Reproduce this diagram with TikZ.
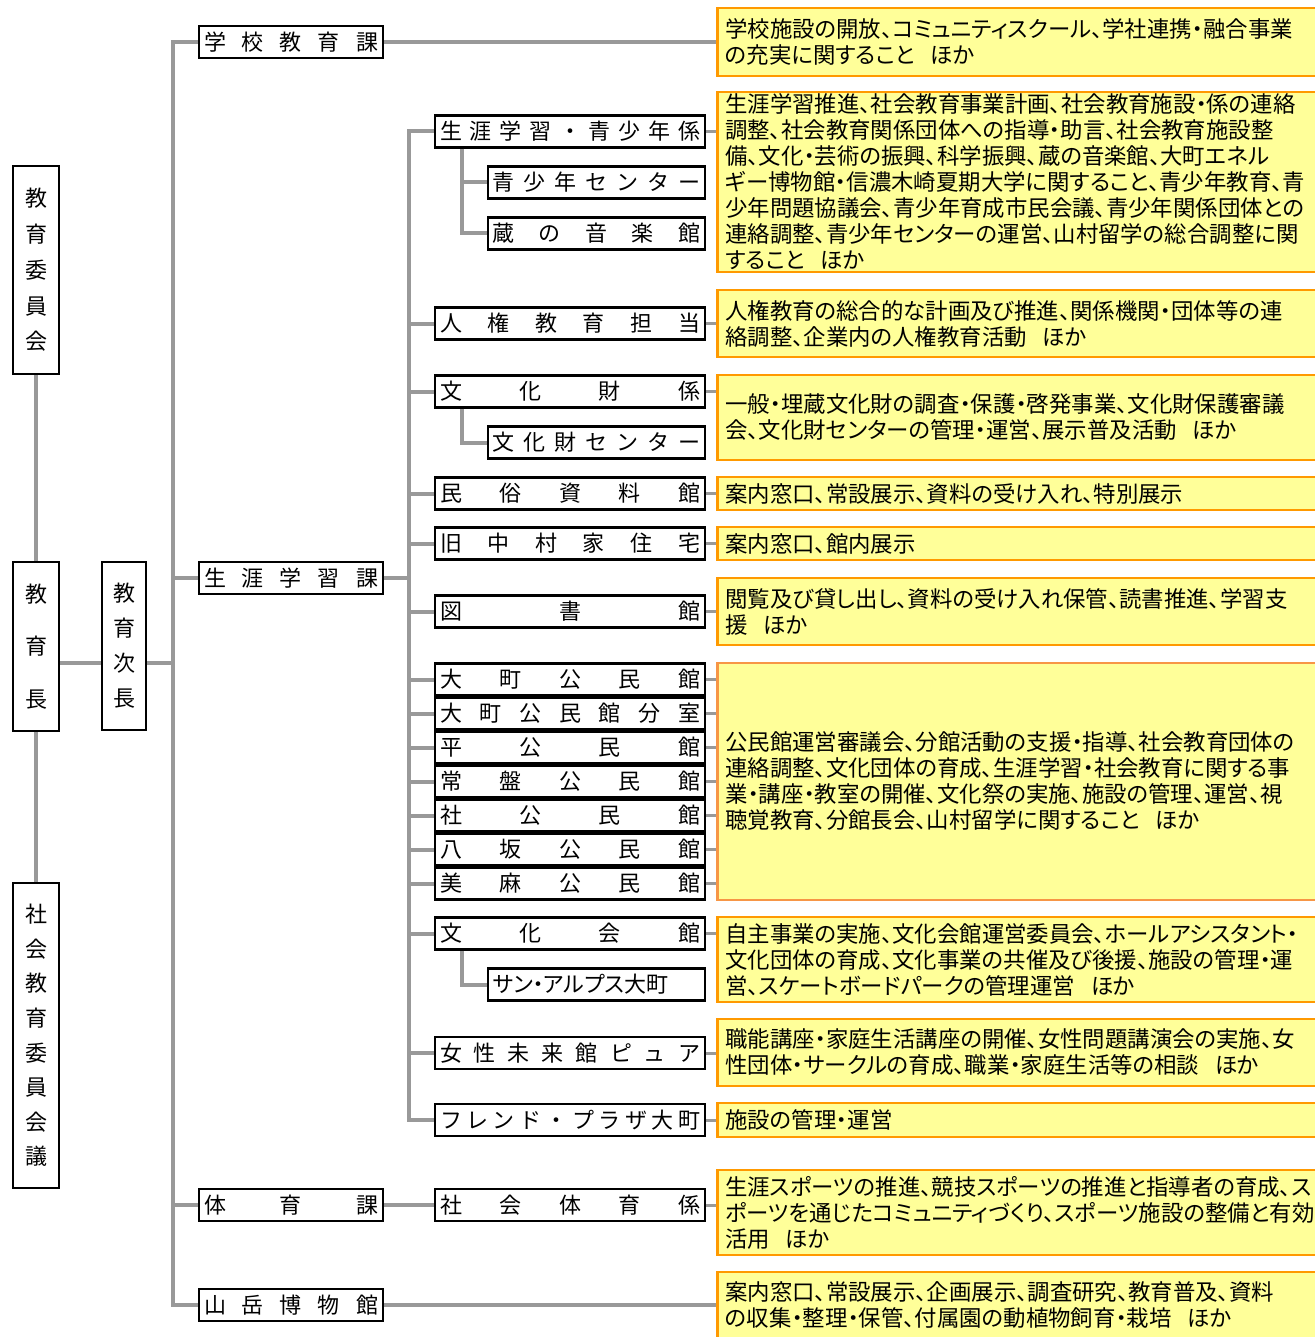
\documentclass[tikz,border=0pt]{standalone}
\usepackage{fontspec}
\newfontfamily\jp{Noto Sans CJK JP}
\newfontfamily\jpp[RawFeature=+palt]{Noto Sans CJK JP}
\definecolor{lg}{HTML}{999999}
\definecolor{dor}{HTML}{FF9900}
\definecolor{dor2}{HTML}{F79646}
\definecolor{dye}{HTML}{FFFF99}
\newcommand{\spr}[2]{\makebox[#1pt][s]{#2}}
\newcommand{\gp}{\hspace{0.7em}}
\begin{document}
\begin{tikzpicture}[x=1pt,y=-1pt,
  vbox/.style={draw=black, line width=2.7pt, fill=white, inner sep=0pt, align=center},
  hbox/.style={draw=black, line width=2.7pt, fill=white, inner sep=0pt, minimum height=32pt, font=\jp\fontsize{22}{26}\selectfont},
  c2box/.style={hbox, minimum width=184pt},
  c3box/.style={hbox, minimum width=270pt},
  subbox/.style={hbox, minimum width=217pt},
  desc/.style={draw=dor, line width=2.5pt, fill=dye, anchor=west, inner xsep=8pt, inner ysep=0pt, text width=630pt, align=left, font=\jpp\fontsize{22.4}{26}\selectfont},
  conn/.style={draw=lg, line width=4pt},
  dconn/.style={draw=lg, line width=3pt}]
\useasboundingbox (0,0) rectangle (1314,1337);

% left column
\node[vbox, minimum width=46pt, minimum height=208pt, font=\jp\fontsize{22}{35.7}\selectfont] (iinkai) at (36,270) {教\\育\\委\\員\\会};
\node[vbox, minimum width=46pt, minimum height=169pt, font=\jp\fontsize{22}{52.5}\selectfont] (kyoikucho) at (36,646.5) {教\\育\\長};
\node[vbox, minimum width=46pt, minimum height=305pt, font=\jp\fontsize{22}{34.6}\selectfont] (shakai) at (36,1035.5) {社\\会\\教\\育\\委\\員\\会\\議};
\node[vbox, minimum width=44pt, minimum height=168pt, font=\jp\fontsize{22}{35}\selectfont] (jicho) at (124,646) {教\\育\\次\\長};

% column 2
\node[c2box] (gakko) at (291,42) {\spr{174}{学\hfill 校\hfill 教\hfill 育\hfill 課}};
\node[c2box] (shogai) at (291,578) {\spr{174}{生\hfill 涯\hfill 学\hfill 習\hfill 課}};
\node[c2box] (taiiku) at (291,1205) {\spr{174}{体\hfill 育\hfill 課}};
\node[c2box] (sangaku) at (291,1305) {\spr{174}{山\hfill 岳\hfill 博\hfill 物\hfill 館}};

% column 3
\node[c3box] (k1) at (570,131.5) {\spr{260}{生\hfill 涯\hfill 学\hfill 習\hfill ・\hfill 青\hfill 少\hfill 年\hfill 係}};
\node[subbox] (seisho) at (596.5,182.5) {\spr{208}{青\hfill 少\hfill 年\hfill セ\hfill ン\hfill タ\hfill ー}};
\node[subbox] (kura) at (596.5,233.5) {\spr{208}{蔵\hfill の\hfill 音\hfill 楽\hfill 館}};
\node[c3box] (jinken) at (570,323.5) {\spr{260}{人\hfill 権\hfill 教\hfill 育\hfill 担\hfill 当}};
\node[c3box] (bunkazai) at (570,391.5) {\spr{260}{文\hfill 化\hfill 財\hfill 係}};
\node[subbox] (bzc) at (596.5,442.5) {\spr{208}{文\hfill 化\hfill 財\hfill セ\hfill ン\hfill タ\hfill ー}};
\node[c3box] (minzoku) at (570,493.5) {\spr{260}{民\hfill 俗\hfill 資\hfill 料\hfill 館}};
\node[c3box] (kyu) at (570,543.5) {\spr{260}{旧\hfill 中\hfill 村\hfill 家\hfill 住\hfill 宅}};
\node[c3box] (tosho) at (570,611.5) {\spr{260}{図\hfill 書\hfill 館}};
\node[c3box] (kom1) at (570,679.5) {\spr{260}{大\hfill 町\hfill 公\hfill 民\hfill 館}};
\node[c3box] (kom2) at (570,713.5) {\spr{260}{大\hfill 町\hfill 公\hfill 民\hfill 館\hfill 分\hfill 室}};
\node[c3box] (kom3) at (570,747.5) {\spr{260}{平\hfill 公\hfill 民\hfill 館}};
\node[c3box] (kom4) at (570,781.5) {\spr{260}{常\hfill 盤\hfill 公\hfill 民\hfill 館}};
\node[c3box] (kom5) at (570,815.5) {\spr{260}{社\hfill 公\hfill 民\hfill 館}};
\node[c3box] (kom6) at (570,849.5) {\spr{260}{八\hfill 坂\hfill 公\hfill 民\hfill 館}};
\node[c3box] (kom7) at (570,883.5) {\spr{260}{美\hfill 麻\hfill 公\hfill 民\hfill 館}};
\node[c3box] (bunkakaikan) at (570,933.5) {\spr{260}{文\hfill 化\hfill 会\hfill 館}};
\node[subbox] (sun) at (596.5,984.5) {\makebox[208pt][l]{\jpp サン・アルプス大町}};
\node[c3box] (josei) at (570,1053) {\spr{260}{女\hfill 性\hfill 未\hfill 来\hfill 館\hfill ピ\hfill ュ\hfill ア}};
\node[c3box] (friend) at (570,1120) {\spr{260}{フ\hfill レ\hfill ン\hfill ド\hfill ・\hfill プ\hfill ラ\hfill ザ\hfill 大\hfill 町}};
\node[c3box] (shtaiiku) at (570,1205) {\spr{260}{社\hfill 会\hfill 体\hfill 育\hfill 係}};

% descriptions
\node[desc, minimum height=68pt] (d1) at (716,42) {学校施設の開放、コミュニティスクール、学社連携・融合事業\\の充実に関すること\gp ほか};
\node[desc, minimum height=180pt] (d2) at (716,182) {生涯学習推進、社会教育事業計画、社会教育施設・係の連絡\\調整、社会教育関係団体への指導・助言、社会教育施設整\\備、文化・芸術の振興、科学振興、蔵の音楽館、大町エネル\\ギー博物館・信濃木崎夏期大学に関すること、青少年教育、青\\少年問題協議会、青少年育成市民会議、青少年関係団体との\\連絡調整、青少年センターの運営、山村留学の総合調整に関\\すること\gp ほか};
\node[desc, minimum height=67pt] (d3) at (716,323.5) {人権教育の総合的な計画及び推進、関係機関・団体等の連\\絡調整、企業内の人権教育活動\gp ほか};
\node[desc, minimum height=85pt] (d4) at (716,417.5) {一般・埋蔵文化財の調査・保護・啓発事業、文化財保護審議\\会、文化財センターの管理・運営、展示普及活動\gp ほか};
\node[desc, minimum height=33pt] (d5) at (716,493.5) {案内窓口、常設展示、資料の受け入れ、特別展示};
\node[desc, minimum height=33pt] (d6) at (716,543.5) {案内窓口、館内展示};
\node[desc, minimum height=67pt] (d7) at (716,611.5) {閲覧及び貸し出し、資料の受け入れ保管、読書推進、学習支\\援\gp ほか};
\node[desc, draw=dor2, minimum height=237pt] (d8) at (716,781.5) {公民館運営審議会、分館活動の支援・指導、社会教育団体の\\連絡調整、文化団体の育成、生涯学習・社会教育に関する事\\業・講座・教室の開催、文化祭の実施、施設の管理、運営、視\\聴覚教育、分館長会、山村留学に関すること\gp ほか};
\node[desc, minimum height=85pt] (d9) at (716,959.5) {自主事業の実施、文化会館運営委員会、ホールアシスタント・\\文化団体の育成、文化事業の共催及び後援、施設の管理・運\\営、スケートボードパークの管理運営\gp ほか};
\node[desc, minimum height=67pt] (d10) at (716,1052.5) {職能講座・家庭生活講座の開催、女性問題講演会の実施、女\\性団体・サークルの育成、職業・家庭生活等の相談\gp ほか};
\node[desc, minimum height=34pt] (d11) at (716,1120) {施設の管理・運営};
\node[desc, minimum height=85pt] (d12) at (716,1212.5) {生涯スポーツの推進、競技スポーツの推進と指導者の育成、ス\\ポーツを通じたコミュニティづくり、スポーツ施設の整備と有効\\活用\gp ほか};
\node[desc, minimum height=66pt] (d13) at (716,1305) {案内窓口、常設展示、企画展示、調査研究、教育普及、資料\\の収集・整理・保管、付属園の動植物飼育・栽培\gp ほか};

% trunk coordinates
\coordinate (tA) at (173,0);
\coordinate (tB) at (409,0);
\coordinate (tC) at (462,0);
\coordinate (hy) at (0,663);

% left connectors
\draw[conn] (iinkai.south) -- (kyoikucho.north);
\draw[conn] (kyoikucho.south) -- (shakai.north);
\draw[conn] (kyoikucho.east |- hy) -- (jicho.west |- hy);
\draw[conn] (jicho.east |- hy) -- (tA |- hy);
\draw[conn] (gakko.west) -| (tA |- sangaku.west) -- (sangaku.west);
\draw[conn] (shogai.west) -- (tA |- shogai.west);
\draw[conn] (taiiku.west) -- (tA |- taiiku.west);
\draw[conn] (gakko.east) -- (d1.west |- gakko.east);
\draw[conn] (sangaku.east) -- (d13.west |- sangaku.east);
\draw[conn] (taiiku.east) -- (shtaiiku.west);

% second trunk
\draw[conn] (shogai.east) -- (tB |- shogai.east);
\draw[conn] (k1.west) -| (tB |- friend.west) -- (friend.west);
\foreach \n in {jinken,bunkazai,minzoku,kyu,tosho,kom1,kom2,kom3,kom4,kom5,kom6,kom7,bunkakaikan,josei}
  \draw[conn] (\n.west) -- (tB |- \n.west);

% sub connectors
\draw[conn] (tC |- k1.south) |- (seisho.west);
\draw[conn] (tC |- k1.south) |- (kura.west);
\draw[conn] (tC |- bunkazai.south) |- (bzc.west);
\draw[conn] (tC |- bunkakaikan.south) |- (sun.west);

% description connectors
\draw[dconn] (k1.east) -- (d2.west |- k1.east);
\draw[dconn] (jinken.east) -- (d3.west |- jinken.east);
\draw[dconn] (bunkazai.east) -- (d4.west |- bunkazai.east);
\draw[dconn] (minzoku.east) -- (d5.west |- minzoku.east);
\draw[dconn] (kyu.east) -- (d6.west |- kyu.east);
\draw[dconn] (tosho.east) -- (d7.west |- tosho.east);
\foreach \n in {kom1,kom2,kom3,kom4,kom5,kom6,kom7}
  \draw[dconn] (\n.east) -- (d8.west |- \n.east);
\draw[dconn] (bunkakaikan.east) -- (d9.west |- bunkakaikan.east);
\draw[dconn] (josei.east) -- (d10.west |- josei.east);
\draw[dconn] (friend.east) -- (d11.west |- friend.east);
\draw[dconn] (shtaiiku.east) -- (d12.west |- shtaiiku.east);
\end{tikzpicture}
\end{document}
